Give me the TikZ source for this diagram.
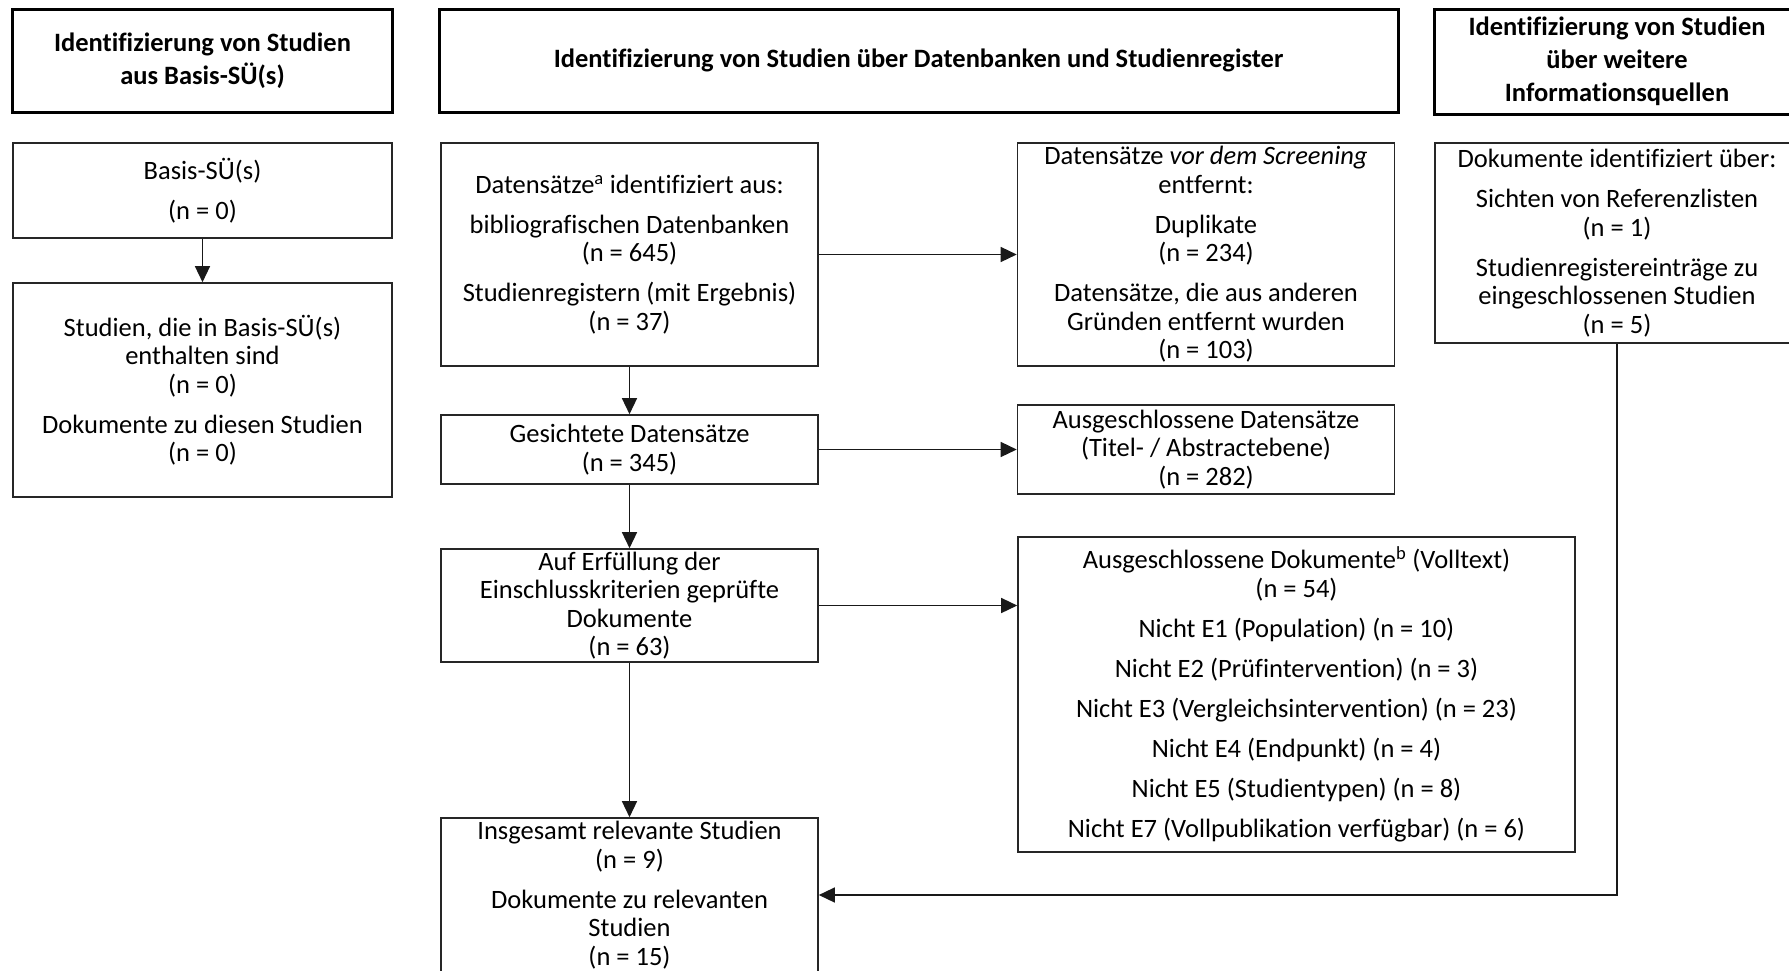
\documentclass[tikz,border=0pt]{standalone}
\usepackage{fontspec}
\setmainfont{Carlito}[Ligatures={CommonOff}, Contextuals={NoAlternate}]
\usetikzlibrary{arrows.meta}

\newcommand{\grp}{\\[11.5pt]}

\tikzset{
  head/.style={draw, line width=3pt, align=center, inner sep=0pt,
    font=\bfseries\fontsize{26.5}{33}\selectfont},
  box/.style={draw=black!85, line width=1.6pt, align=center, inner sep=0pt,
    font=\fontsize{26.5}{28.5}\selectfont},
  link/.style={line width=1.4pt, draw=black!90}
}

\begin{document}
\begin{tikzpicture}[x=1pt, y=-1pt, >={Triangle[length=16pt,width=15pt]}]

\useasboundingbox (0,0) rectangle (1789,970);
\clip (0,0) rectangle (1789,970);

% Headers
\node[head, minimum width=380pt, minimum height=103pt] (h1) at (202.5,60.5)
  {Identifizierung von Studien\\ aus Basis-SÜ(s)};
\node[head, minimum width=959pt, minimum height=103pt] (h2) at (918.5,60.5)
  {Identifizierung von Studien über Datenbanken und Studienregister};
\node[head, minimum width=366pt, minimum height=105pt] (h3) at (1617,61.5)
  {Identifizierung von Studien\\ über weitere\\ Informationsquellen};

% Basis-SU column
\node[box, minimum width=379pt, minimum height=95pt] (basis) at (202.5,190.5)
  {Basis-SÜ(s)\grp (n = 0)};
\node[box, minimum width=379pt, minimum height=214pt] (sr) at (202.5,390)
  {Studien, die in Basis-SÜ(s)\\ enthalten sind\\ (n = 0)\grp
   Dokumente zu diesen Studien\\ (n = 0)};

% Database column
\node[box, minimum width=377pt, minimum height=223pt] (recs) at (629.5,254.5)
  {Datensätze\textsuperscript{a} identifiziert aus:\grp
   bibliografischen Datenbanken\\ (n = 645)\grp
   Studienregistern (mit Ergebnis)\\ (n = 37)};
\node[box, minimum width=377pt, minimum height=69pt] (screened) at (629.5,449.5)
  {Gesichtete Datensätze\\ (n = 345)};
\node[box, minimum width=377pt, minimum height=113pt] (assess) at (629.5,605.5)
  {Auf Erfüllung der\\ Einschlusskriterien geprüfte\\ Dokumente\\ (n = 63)};
\node[box, minimum width=377pt, minimum height=154pt] (incl) at (629.5,895)
  {Insgesamt relevante Studien\\ (n = 9)\grp
   Dokumente zu relevanten\\ Studien\\ (n = 15)};

% Exclusions
\node[box, minimum width=377pt, minimum height=223pt] (removed) at (1206,254.5)
  {Datensätze \textit{vor dem Screening}\\ entfernt:\grp
   Duplikate\\ (n = 234)\grp
   Datensätze, die aus anderen\\ Gründen entfernt wurden\\ (n = 103)};
\node[box, minimum width=377pt, minimum height=89pt] (excl) at (1206,449.5)
  {Ausgeschlossene Datensätze\\ (Titel- / Abstractebene)\\ (n = 282)};
\node[box, minimum width=557pt, minimum height=315pt] (exclft) at (1296.5,694.5)
  {Ausgeschlossene Dokumente\textsuperscript{b} (Volltext)\\ (n = 54)\grp
   Nicht E1 (Population) (n = 10)\grp
   Nicht E2 (Prüfintervention) (n = 3)\grp
   Nicht E3 (Vergleichsintervention) (n = 23)\grp
   Nicht E4 (Endpunkt) (n = 4)\grp
   Nicht E5 (Studientypen) (n = 8)\grp
   Nicht E7 (Vollpublikation verfügbar) (n = 6)};

% Other sources
\node[box, minimum width=364pt, minimum height=200pt] (other) at (1617,243)
  {Dokumente identifiziert über:\grp
   Sichten von Referenzlisten\\ (n = 1)\grp
   Studienregistereinträge zu\\ eingeschlossenen Studien\\ (n = 5)};

% Connectors
\draw[link,->] (basis) -- (sr);
\draw[link,->] (recs) -- (removed);
\draw[link,->] (recs) -- (screened);
\draw[link,->] (screened) -- (excl);
\draw[link,->] (screened) -- (assess);
\draw[link,->] (assess.east) -- (assess.east -| exclft.west);
\draw[link,->] (assess) -- (incl);
\draw[link,->] (other) |- (incl);

\end{tikzpicture}
\end{document}
